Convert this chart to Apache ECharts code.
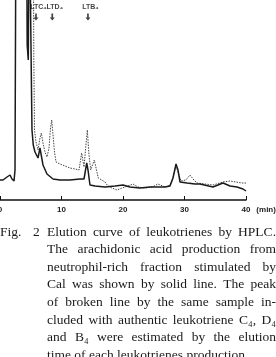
<!DOCTYPE html>
<html>
<head>
<meta charset="utf-8">
<script src="https://cdn.jsdelivr.net/npm/echarts@6/dist/echarts.min.js"></script>
<style>
html, body { margin: 0; padding: 0; background: #fff; }
#chart { width: 276px; height: 357px; }
</style>
</head>
<body>
<div id="chart"></div>
<script>
// elution time (min) and detector response (arbitrary, off-scale > 200)
const solidTime = [0, 0.49, 1.14, 1.63, 1.95, 2.28, 2.44, 2.6, 4.31, 4.42, 4.6, 4.76, 4.96, 5.2, 5.41, 5.69, 6.18, 6.5, 6.75, 6.99, 7.64, 8.62, 9.76, 11.38, 13.0, 13.66, 14.1, 14.31, 14.63, 15.45, 17.07, 18.7, 20.0, 21.14, 22.76, 24.39, 25.53, 26.83, 27.64, 28.13, 28.62, 28.94, 29.27, 30.41, 31.71, 32.52, 34.63, 36.26, 37.4, 38.54, 39.51, 40];
const solidAbs = [20, 20, 23, 25, 21, 19, 30, 300, 300, 155, 140, 300, 300, 70, 55, 48, 42, 52, 50, 35, 26, 21, 20, 20, 21, 21, 37, 30, 15, 14, 13, 14, 15, 13, 12, 13, 13, 13, 14, 22, 36, 30, 18, 17, 16, 16, 13, 17, 14, 13, 11, 9];

const brokenTime = [4.8, 5.4, 5.5, 5.61, 5.85, 6.18, 6.5, 6.72, 6.99, 7.32, 7.64, 7.97, 8.21, 8.41, 8.62, 8.86, 9.11, 9.76, 10.57, 11.38, 12.2, 12.85, 13.28, 13.66, 13.9, 14.2, 14.47, 14.75, 15.04, 15.33, 15.69, 15.98, 16.54, 17.07, 17.56, 18.21, 19.02, 19.84, 20.81, 21.63, 22.44, 23.58, 24.72, 25.69, 26.83, 27.64, 28.13, 28.62, 28.94, 29.43, 30.24, 30.89, 31.54, 32.03, 33.33, 34.63, 36.26, 37.4, 38.37, 39.35, 40];
const brokenAbs = [300, 300, 140, 70, 58, 50, 62, 67, 57, 48, 43, 52, 72, 80, 65, 48, 38, 36, 34, 32, 31, 30, 47, 33, 50, 70, 45, 30, 32, 40, 30, 22, 20, 18, 14, 12, 10, 12, 14, 16, 13, 12, 13, 16, 13, 15, 23, 34, 28, 19, 20, 25, 20, 17, 16, 15, 18, 19, 18, 17, 17];

const markerTime = [5.85, 8.5, 14.3];
const markerNames = ['LTC₄', 'LTD₄', 'LTB₄'];

const captionLines = [
    'Elution curve of leukotrienes by HPLC.',
    'The arachidonic acid production from',
    'neutrophil-rich fraction stimulated by',
    'Cal was shown by solid line.  The peak',
    'of broken line by the same sample in-',
    'cluded with authentic leukotriene C₄, D₄',
    'and B₄ were estimated by the elution',
    'time of each leukotrienes production.'
];

const chart = echarts.init(document.getElementById('chart'));

// caption, justified by hand
const font = '13.5px "Liberation Serif", "DejaVu Serif", serif';
const ctx = document.createElement('canvas').getContext('2d');
ctx.font = font;
const graphics = [
    { type: 'text', x: 0, y: 232, style: { text: 'Fig.', font: font, fill: '#1a1a1a', verticalAlign: 'middle' } },
    { type: 'text', x: 33, y: 232, style: { text: '2', font: font, fill: '#1a1a1a', verticalAlign: 'middle' } }
];
captionLines.forEach((line, i) => {
    const y = 232 + i * 17.6;
    const words = line.split(/\s+/);
    const widths = words.map(w => ctx.measureText(w).width);
    const total = widths.reduce((a, b) => a + b, 0);
    const last = i === captionLines.length - 1;
    const gap = last ? ctx.measureText(' ').width : (229 - total) / (words.length - 1);
    let x = 47;
    words.forEach((w, j) => {
        graphics.push({
            type: 'text', x: x, y: y,
            style: { text: w, font: font, fill: '#1a1a1a', verticalAlign: 'middle' }
        });
        x += widths[j] + gap;
    });
});

const option = {
    animation: false,
    grid: { left: 0, right: 30, top: 0, bottom: 157, containLabel: false, outerBoundsMode: 'none' },
    xAxis: {
        type: 'value',
        min: 0,
        max: 40,
        interval: 10,
        name: '(min)',
        nameLocation: 'end',
        nameGap: 9,
        nameTextStyle: { fontSize: 8, fontWeight: 'bold', color: '#222', verticalAlign: 'top', padding: [6, 0, 0, 0], align: 'left' },
        axisLine: { lineStyle: { color: '#111', width: 1.5 } },
        axisTick: { inside: true, length: 4, lineStyle: { color: '#111' } },
        axisLabel: { fontSize: 8, fontWeight: 'bold', color: '#222', margin: 6 },
        splitLine: { show: false }
    },
    yAxis: {
        type: 'value',
        min: 0,
        max: 200,
        show: false
    },
    series: [
        {
            type: 'line',
            data: brokenTime.map((t, i) => [t, brokenAbs[i]]),
            showSymbol: false,
            lineStyle: { color: '#444', width: 1, type: [1.5, 1.2] },
            z: 2
        },
        {
            type: 'line',
            data: solidTime.map((t, i) => [t, solidAbs[i]]),
            showSymbol: false,
            lineStyle: { color: '#1a1a1a', width: 1.5 },
            z: 3
        },
        {
            type: 'scatter',
            data: markerTime.map((t, i) => ({ value: [t, 183], name: markerNames[i] })),
            symbol: 'path://M2,0 L4,0 L4,5 L6,5 L3,9 L0,5 L2,5 Z',
            symbolSize: [5, 7],
            itemStyle: { color: '#111' },
            label: {
                show: true,
                position: 'top',
                distance: 3,
                offset: [2.5, 0],
                formatter: p => p.name,
                fontSize: 7,
                fontWeight: 'bold',
                fontFamily: 'Liberation Sans',
                color: '#111'
            },
            z: 4
        }
    ],
    graphic: graphics
};

chart.setOption(option);
</script>
</body>
</html>
